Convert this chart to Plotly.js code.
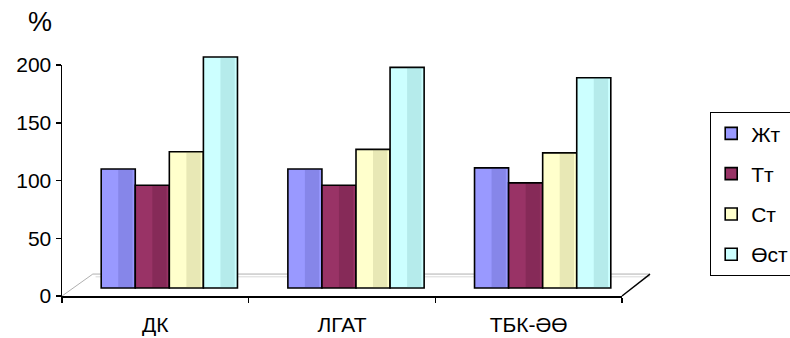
<!DOCTYPE html>
<html>
<head>
<meta charset="utf-8">
<script src="https://cdn.plot.ly/plotly-3.0.1.min.js"></script>
<style>html,body{margin:0;padding:0;background:#fff;}#chart{width:790px;height:338px;}</style>
</head>
<body>
<div id="chart"></div>
<script>
const categories = ["ДК", "ЛГАТ", "ТБК-ӘӨ"];
const seriesNames = ["Жт", "Тт", "Ст", "Өст"];
const valuesZht = [103, 103, 104];
const valuesTt = [89, 89, 91];
const valuesSt = [118, 120, 117];
const valuesOst = [200, 191, 182];
const yTicks = [0, 50, 100, 150, 200];

const colors = ["#9999FF", "#993366", "#FFFFCC", "#CCFFFF"];
const shadeColors = ["rgba(40,40,120,0.16)", "rgba(40,0,20,0.16)", "rgba(90,90,40,0.14)", "rgba(40,110,110,0.14)"];
const allValues = [valuesZht, valuesTt, valuesSt, valuesOst];

const FONT = "Liberation Sans, Arial, sans-serif";
const FS = 21;
const W = 790, H = 338;
const mL = 62, mR = 168, mT = 40, mB = 42;
const plotW = W - mL - mR, plotH = H - mT - mB;   // full plot area
const axisH = 231;                                // height of the 0..200 axis
const depthX = 14, depthY = 8;                    // 3-D offset of the bars (pixels)
const pxPerUnit = axisH / 200;
const groupWidth = 0.73;
const barW = groupWidth / seriesNames.length;

// invisible trace so that the front (labelled) axes are drawn
const axisTrace = {
  type: "scatter", mode: "markers",
  x: categories, y: categories.map(() => yTicks[0]),
  marker: {opacity: 0}, showlegend: false, hoverinfo: "skip"
};

const barTraces = seriesNames.map((name, i) => ({
  type: "bar",
  name: name,
  x: categories,
  y: allValues[i],
  xaxis: "x2", yaxis: "y2",
  offset: -groupWidth / 2 + i * barW,
  width: barW,
  marker: {color: colors[i], line: {color: "#000", width: 1.6}},
  legendgroup: name,
  hoverinfo: "x+y+name"
}));

// darker right-hand band to suggest the cylinder shading
const shadeTraces = seriesNames.map((name, i) => ({
  type: "bar",
  name: name + " shade",
  x: categories,
  y: allValues[i],
  xaxis: "x2", yaxis: "y2",
  offset: -groupWidth / 2 + i * barW + barW * 0.5,
  width: barW * 0.42,
  marker: {color: shadeColors[i], line: {width: 0}},
  showlegend: false, hoverinfo: "skip"
}));

const traces = [axisTrace].concat(barTraces, shadeTraces);

const shiftCat = depthX / (plotW / categories.length);
const shiftVal = depthY / pxPerUnit;
const yDomTop = axisH / plotH;

const layout = {
  width: W, height: H,
  margin: {l: mL, r: mR, t: mT, b: mB},
  paper_bgcolor: "#fff", plot_bgcolor: "rgba(0,0,0,0)",
  font: {family: FONT, size: FS, color: "#000"},
  barmode: "overlay",
  showlegend: true,
  legend: {
    xref: "container", yref: "container",
    x: 710 / W, xanchor: "left", y: 1 - 112 / H, yanchor: "top",
    bordercolor: "#000", borderwidth: 1.2, bgcolor: "#fff",
    font: {family: FONT, size: FS},
    traceorder: "grouped", tracegroupgap: 10,
    itemwidth: 30
  },
  xaxis: {
    type: "category", range: [-0.5, 2.5], domain: [0, 1], anchor: "y",
    showline: true, linecolor: "#000", linewidth: 1.5,
    ticks: "outside", ticklen: 5, tickcolor: "#000", tickwidth: 1.5,
    tickson: "boundaries",
    ticklabelstandoff: 9,
    showgrid: false, zeroline: false,
    tickfont: {family: FONT, size: FS}
  },
  yaxis: {
    domain: [0, yDomTop], anchor: "x",
    range: [0, 200], tickvals: yTicks,
    showline: true, linecolor: "#000", linewidth: 1.5,
    ticks: "outside", ticklen: 5, tickcolor: "#000", tickwidth: 1.5,
    showgrid: false, zeroline: false,
    tickfont: {family: FONT, size: FS}
  },
  xaxis2: {
    type: "category", domain: [0, 1], anchor: "y2",
    range: [-0.5 - shiftCat, 2.5 - shiftCat],
    visible: false, showgrid: false, zeroline: false
  },
  yaxis2: {
    domain: [0, 1], anchor: "x2",
    range: [-shiftVal, plotH / pxPerUnit - shiftVal],
    visible: false, showgrid: false, zeroline: false
  },
  shapes: [
    // floor: back edge (double gray line)
    {type: "line", xref: "x domain", yref: "y domain", x0: 0.055, x1: 1.05, y0: 0.095, y1: 0.095, line: {color: "#b0b0b0", width: 1}, layer: "below"},
    {type: "line", xref: "x domain", yref: "y domain", x0: 0.06, x1: 1.05, y0: 0.083, y1: 0.083, line: {color: "#d8d8d8", width: 1}, layer: "below"},
    // floor left edge
    {type: "line", xref: "x domain", yref: "y domain", x0: 0, x1: 0.055, y0: 0, y1: 0.095, line: {color: "#b0b0b0", width: 1}, layer: "below"},
    // floor right edge
    {type: "line", xref: "x domain", yref: "y domain", x0: 1.0, x1: 1.05, y0: 0, y1: 0.095, line: {color: "#000", width: 1.5}, layer: "below"}
  ],
  annotations: [
    {text: "%", xref: "paper", yref: "paper", x: (40 - mL) / plotW, y: (H - mB - 22) / plotH, xanchor: "center", yanchor: "middle", showarrow: false, font: {family: FONT, size: 27}}
  ]
};

Plotly.newPlot("chart", traces, layout, {displayModeBar: false, staticPlot: true});
</script>
</body>
</html>
